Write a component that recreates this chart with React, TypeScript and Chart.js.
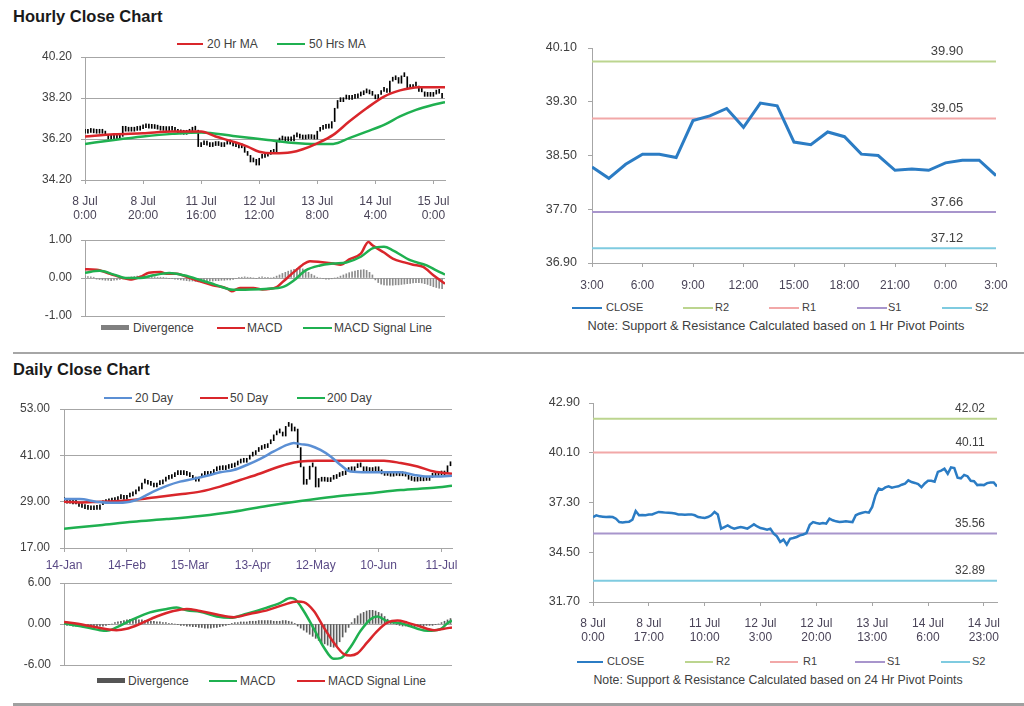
import React, { useEffect, useRef } from 'react';
import { Chart, registerables } from 'chart.js';

Chart.register(...registerables);

const FONT = '"Liberation Sans", Arial, Helvetica, sans-serif';
const TXT = '#404040';
const XLBL = '#4a4458';
const GRID = '#a6a6a6';
const RED = '#d9262b';
const GREEN = '#1fb050';
const BLUE20 = '#5b8fd4';
const CLOSE_BLUE = '#2b7cc4';
const DIV_H = '#8c8c8c';
const DIV_D = '#5c5c5c';
const R2C = '#bcd58f';
const R1C = '#f2a8a8';
const S1C = '#a895cc';
const S2C = '#7fcbe0';

// ---------------- Hourly data (8 Jul 0:00 .. 15 Jul 3:00, trading hours) ----------------
const hourlyClose = [
  36.48, 36.58, 36.52, 36.50, 36.48, 36.50, 36.48, 36.39, 36.20, 36.18,
  36.20, 36.22, 36.33, 36.82, 36.58, 36.60, 36.58, 36.62, 36.63, 36.70,
  36.77, 36.75, 36.73, 36.72, 36.71, 36.68, 36.63, 36.62, 36.61, 36.62,
  36.63, 36.58, 36.48, 36.45, 36.43, 36.48, 36.58, 36.77, 36.63, 35.83,
  35.92, 36.01, 35.90, 35.83, 35.88, 35.92, 35.88, 35.83, 35.95, 36.07,
  35.95, 35.86, 35.82, 35.77, 35.83, 35.55, 35.40, 35.08, 35.21, 34.93,
  35.26, 35.30, 35.36, 35.45, 35.50, 35.58, 36.05, 36.20, 36.15, 36.11,
  36.15, 36.11, 36.39, 36.30, 36.24, 36.20, 36.22, 36.24, 36.22, 36.20,
  36.58, 36.67, 36.72, 36.77, 36.73, 37.05, 37.70, 38.08, 38.02, 38.15,
  38.21, 38.13, 38.18, 38.21, 38.30, 38.36, 38.55, 38.45, 38.40, 38.33,
  38.16, 38.37, 38.52, 38.52, 38.47, 39.02, 39.09, 39.20, 38.92, 39.28,
  39.24, 38.70, 38.66, 38.85, 38.78, 38.52, 38.50, 38.28, 38.30, 38.28,
  38.39, 38.43, 38.43, 38.20,
];
const hourlyMA20 = [
  [0, 36.32], [10, 36.43], [20, 36.48], [30, 36.56], [40, 36.56], [45, 36.32], [51, 36.07],
  [56, 35.83], [60, 35.58], [65, 35.5], [71, 35.55], [75, 35.7], [80, 35.99], [85.5, 36.4],
  [91, 37.05], [97, 37.7], [103, 38.27], [108.5, 38.57], [112, 38.68], [115, 38.72], [124, 38.72],
];
const hourlyMA50 = [
  [0, 35.96], [10, 36.15], [20, 36.32], [30, 36.45], [40, 36.52], [51, 36.35], [63, 36.15],
  [71, 36.02], [80, 35.96], [85.5, 35.96], [91, 36.24], [97, 36.56], [103, 36.89],
  [108.5, 37.3], [114, 37.62], [120, 37.87], [124, 38.0],
];
const hourlyMACD = [
  [0, 0.23], [4, 0.22], [8.6, 0.11], [13, 0.0], [15.5, -0.04], [19, 0.03], [22, 0.14], [26, 0.16],
  [28, 0.11], [31.6, 0.11], [35, 0.03], [39.6, -0.09], [44, -0.19], [49, -0.28], [50.5, -0.35],
  [53.4, -0.26], [58, -0.26], [61, -0.3], [66, -0.24], [68, -0.11], [72, 0.16], [75, 0.35],
  [77.5, 0.44], [81, 0.42], [85.5, 0.38], [88, 0.35], [91, 0.49], [95, 0.64], [97.6, 0.95],
  [99, 0.86], [103, 0.67], [106, 0.51], [110, 0.41], [113, 0.35], [116.5, 0.29], [120, 0.07],
  [124, -0.15],
];
const hourlySignal = [
  [0, 0.14], [5, 0.19], [10, 0.09], [14, 0], [19, 0], [23.5, 0.07], [29, 0.13], [34, 0.07],
  [40, -0.06], [45, -0.18], [51, -0.31], [57, -0.3], [63, -0.28], [68, -0.24], [72, -0.06],
  [76, 0.2], [81, 0.33], [85.5, 0.38], [90, 0.41], [95, 0.56], [99, 0.78], [103, 0.82],
  [106, 0.73], [112, 0.47], [117.7, 0.33], [121, 0.2], [124, 0.09],
];
const hourlyDivergence = [
  0.05, 0.04, 0.03, 0.02, -0.03, -0.04, -0.05, -0.06, -0.06, -0.07,
  -0.06, -0.05, -0.04, -0.02, 0.0, 0.02, 0.03, 0.04, 0.05, 0.06,
  0.05, 0.04, 0.04, 0.03, 0.03, 0.02, 0.02, 0.01, 0.0, -0.01,
  -0.02, -0.03, -0.04, -0.05, -0.06, -0.07, -0.08, -0.08, -0.09, -0.1,
  -0.1, -0.09, -0.09, -0.08, -0.08, -0.07, -0.07, -0.06, -0.06, -0.05,
  -0.05, -0.04, -0.02, 0.01, 0.02, 0.03, 0.02, 0.01, 0.0, -0.01,
  0.02, 0.03, 0.02, 0.01, 0.0, 0.02, 0.05, 0.08, 0.12, 0.15,
  0.18, 0.21, 0.23, 0.25, 0.26, 0.24, 0.2, 0.15, 0.1, 0.06,
  0.02, 0.0, -0.02, -0.03, -0.03, -0.02, 0.0, 0.02, 0.05, 0.08,
  0.11, 0.14, 0.16, 0.18, 0.2, 0.21, 0.22, 0.2, 0.15, 0.08,
  -0.05, -0.12, -0.16, -0.18, -0.19, -0.19, -0.19, -0.18, -0.18, -0.17,
  -0.16, -0.15, -0.14, -0.13, -0.12, -0.12, -0.13, -0.15, -0.17, -0.2,
  -0.23, -0.25, -0.27, -0.28,
];
const hourlyYTicks = [34.2, 36.2, 38.2, 40.2];
const hourlyMacdYTicks = [-1, 0, 1];
const hourlyXTickIdx = [0, 20, 40, 60, 80, 100, 120];
const hourlyXTickLabels = [
  ['8 Jul', '0:00'], ['8 Jul', '20:00'], ['11 Jul', '16:00'], ['12 Jul', '12:00'],
  ['13 Jul', '8:00'], ['14 Jul', '4:00'], ['15 Jul', '0:00'],
];

// 1 Hr pivot chart (last 25 hours)
const pivotWindowStart = 99;
const pivotHourlyYTicks = [36.9, 37.7, 38.5, 39.3, 40.1];
const pivotHourlyXTickIdx = [0, 3, 6, 9, 12, 15, 18, 21, 24];
const pivotHourlyXTickLabels = ['3:00', '6:00', '9:00', '12:00', '15:00', '18:00', '21:00', '0:00', '3:00'];
const hourlyPivots = [39.9, 39.05, 37.66, 37.12]; // R2, R1, S1, S2

// ---------------- Daily data ----------------
const dailyClose = [
  29.0, 28.6, 28.8, 28.4, 28.7, 27.8, 27.5, 27.2, 27.0, 26.9,
  27.3, 27.0, 28.2, 28.5, 28.7, 28.9, 29.0, 29.3, 29.8, 30.0,
  29.6, 30.2, 30.5, 31.0, 31.8, 32.3, 33.8, 34.0, 33.5, 33.2,
  32.8, 33.4, 33.6, 34.3, 34.8, 35.0, 35.5, 36.0, 36.2, 36.0,
  36.3, 35.8, 35.5, 34.8, 34.3, 35.2, 35.8, 36.0, 35.8, 36.3,
  37.0, 37.2, 37.5, 37.3, 37.6, 37.8, 38.0, 38.5, 39.0, 39.3,
  39.2, 40.0, 40.8, 41.2, 42.0, 42.5, 42.8, 43.0, 44.0, 44.8,
  46.3, 47.2, 46.8, 46.0, 48.5, 49.2, 47.3, 47.8, 43.0, 38.0,
  33.5, 34.8, 38.2, 38.0, 32.8, 35.0, 34.3, 34.6, 34.2, 34.8,
  35.0, 35.5, 35.8, 36.0, 36.8, 37.5, 37.0, 37.8, 38.3, 38.0,
  37.0, 37.2, 36.8, 37.0, 37.2, 37.0, 36.2, 35.8, 36.0, 35.6,
  36.0, 35.8, 35.7, 35.9, 35.6, 34.8, 34.5, 34.3, 34.6, 34.4,
  34.8, 34.5, 35.3, 35.6, 35.8, 36.5, 35.9, 36.4, 38.3, 39.2,
];
const dailyMA20 = [
  [0, 29.67], [5.2, 29.67], [10.8, 29.0], [16.4, 28.7], [22, 29.0], [25.3, 29.8], [29.8, 31.6],
  [34.3, 33.1], [38.7, 34.2], [43.2, 34.9], [47.7, 35.7], [52.1, 36.6], [56.6, 37.2], [61, 38.5],
  [65.5, 40.1], [70, 42.0], [74.4, 43.7], [76.7, 44.2], [78.9, 43.9], [82.3, 43.5], [85.6, 42.4],
  [89, 40.7], [92.3, 38.5], [95.6, 36.8], [101.2, 36.6], [106.8, 36.6], [112.4, 36.6],
  [116.9, 35.9], [121.3, 35.5], [125.8, 35.5], [129.5, 35.7],
];
const dailyMA50 = [
  [0, 29.0], [5.2, 28.8], [12, 29.0], [18.6, 29.15], [25.3, 29.6], [32, 30.3], [38.7, 30.9],
  [45.4, 31.6], [52.1, 32.9], [58.8, 34.6], [65.5, 36.3], [70, 37.6], [74.4, 38.7], [78.9, 39.4],
  [84.5, 39.6], [90, 39.6], [95.6, 39.6], [101.2, 39.6], [106.8, 39.6], [112.4, 39.0],
  [118, 38.1], [123.5, 36.8], [129.5, 36.2],
];
const dailyMA200 = [
  [0, 22.0], [12, 22.9], [23.1, 23.8], [34.3, 24.5], [45.4, 25.3], [56.6, 26.4], [67.7, 27.9],
  [78.9, 29.2], [90, 30.3], [101.2, 31.1], [112.4, 32.0], [123.5, 32.6], [129.5, 33.1],
];
const dailyMACD = [
  [0, 0.1], [6.4, -0.4], [12, -0.9], [14.2, -1.0], [17.5, -0.5], [23.1, 0.7], [28.7, 1.7],
  [34.3, 2.2], [37.6, 2.4], [41, 2.0], [45.4, 1.8], [51, 1.1], [55.5, 0.9], [61, 1.5],
  [67.7, 2.4], [72.2, 3.1], [75.6, 3.8], [77.2, 3.6], [80, 1.9], [83.4, -0.7], [86.7, -3.4],
  [90, -5.1], [92.3, -5.0], [95.6, -3.4], [99, -1.0], [102.3, 0.7], [104.6, 1.1], [107.9, 0.4],
  [112.4, 0.1], [118, -0.7], [121.3, -1.0], [125.8, -0.7], [128, 0.1], [129.5, 0.5],
];
const dailySignal = [
  [0, 0.3], [6.4, -0.1], [12, -0.6], [17.5, -0.9], [20.9, -0.7], [25.3, 0], [30.9, 1.1],
  [36.5, 1.9], [41, 2.2], [45.4, 1.9], [51, 1.4], [56.6, 1.0], [62.2, 1.5], [67.7, 2.0],
  [73.3, 2.8], [77.8, 3.3], [80, 3.2], [83.4, 1.9], [86.7, -0.5], [90, -2.7], [93.4, -4.4],
  [95.6, -4.6], [97.9, -4.3], [101.2, -2.7], [104.6, -1.0], [107.9, 0.2], [111.3, 0.5],
  [114.6, 0.2], [119.1, -0.4], [123.5, -0.9], [126.8, -0.7], [129.5, -0.5],
];
const dailyDivergence = [
  -0.1, -0.2, -0.2, -0.3, -0.3, -0.4, -0.4, -0.5, -0.5, -0.5,
  -0.4, -0.4, -0.3, -0.3, -0.2, -0.1, 0.0, 0.2, 0.3, 0.4,
  0.5, 0.6, 0.7, 0.7, 0.7, 0.6, 0.6, 0.5, 0.5, 0.4,
  0.4, 0.3, 0.3, 0.2, 0.2, 0.1, 0.1, 0.0, -0.1, -0.2,
  -0.2, -0.3, -0.3, -0.4, -0.4, -0.5, -0.5, -0.6, -0.6, -0.6,
  -0.5, -0.5, -0.4, -0.3, -0.2, -0.1, 0.1, 0.2, 0.2, 0.3,
  0.3, 0.3, 0.4, 0.4, 0.4, 0.5, 0.5, 0.5, 0.5, 0.5,
  0.4, 0.4, 0.4, 0.5, 0.5, 0.4, 0.3, 0.1, -0.3, -0.6,
  -0.9, -1.2, -1.5, -1.8, -2.1, -2.4, -2.7, -2.9, -3.1, -3.3,
  -3.4, -3.2, -2.6, -1.9, -1.2, -0.5, 0.2, 0.8, 1.2, 1.5,
  1.7, 1.9, 2.0, 2.0, 1.9, 1.7, 1.5, 1.1, 0.7, 0.4,
  0.1, -0.1, -0.2, -0.3, -0.3, -0.4, -0.4, -0.4, -0.3, -0.3,
  -0.3, -0.2, -0.2, -0.2, -0.1, 0.0, 0.2, 0.4, 0.6, 0.8,
];
const dailyYTicks = [17, 29, 41, 53];
const dailyMacdYTicks = [-6, 0, 6];
const dailyXTickIdx = [0, 21, 42, 63, 84, 105, 126];
const dailyXTickLabels = ['14-Jan', '14-Feb', '15-Mar', '13-Apr', '12-May', '10-Jun', '11-Jul'];

// 24 Hr pivot chart (hourly closes 8 Jul 0:00 .. 15 Jul 3:00)
const pivotDailyYTicks = [31.7, 34.5, 37.3, 40.1, 42.9];
const pivotDailyXTickIdx = [0, 17, 34, 51, 68, 85, 102, 119];
const pivotDailyXTickLabels = [
  ['8 Jul', '0:00'], ['8 Jul', '17:00'], ['11 Jul', '10:00'], ['12 Jul', '3:00'],
  ['12 Jul', '20:00'], ['13 Jul', '13:00'], ['14 Jul', '6:00'], ['14 Jul', '23:00'],
];
const dailyPivots = [42.02, 40.11, 35.56, 32.89]; // R2, R1, S1, S2

const pivotColors = [R2C, R1C, S1C, S2C];

// ---------------- helpers ----------------
const pts = (arr: number[][]) => arr.map(([x, y]) => ({ x, y }));

function yScale(ticks: number[], width: number, grid: boolean, size: number, pad: number) {
  return {
    type: 'linear',
    min: ticks[0],
    max: ticks[ticks.length - 1],
    afterBuildTicks: (s: any) => {
      s.ticks = ticks.map((v) => ({ value: v }));
    },
    afterFit: (s: any) => {
      s.width = width;
      s.paddingTop = 0;
      s.paddingBottom = 0;
    },
    ticks: {
      callback: (v: any) => Number(v).toFixed(2),
      color: TXT,
      font: { family: FONT, size },
      padding: pad,
    },
    grid: { drawOnChartArea: grid, color: GRID, tickColor: GRID, tickLength: 4, lineWidth: 1 },
    border: { display: true, color: GRID, width: 1 },
  };
}

function xScale(
  min: number,
  max: number,
  idx: number[] | null,
  labels: any[] | null,
  height: number,
  size: number,
  pad: number,
  color: string,
) {
  if (!idx) {
    return { type: 'linear', min, max, offset: false, display: false };
  }
  return {
    type: 'linear',
    min,
    max,
    offset: false,
    afterBuildTicks: (s: any) => {
      s.ticks = idx.map((v) => ({ value: v }));
    },
    afterFit: (s: any) => {
      s.height = height;
      s.paddingLeft = 0;
      s.paddingRight = 0;
    },
    ticks: {
      autoSkip: false,
      maxRotation: 0,
      minRotation: 0,
      callback: (_v: any, i: number) => (labels as any[])[i],
      color,
      font: { family: FONT, size, lineHeight: 1.2 },
      padding: pad,
    },
    grid: { drawOnChartArea: false, color: GRID, tickColor: GRID, tickLength: 4, offset: false },
    border: { display: true, color: GRID, width: 1 },
  };
}

const lineDs = (data: any[], color: string, width: number, smooth: boolean) => ({
  type: 'line',
  data,
  borderColor: color,
  backgroundColor: color,
  borderWidth: width,
  pointRadius: 0,
  fill: false,
  tension: smooth ? 0.4 : 0,
  cubicInterpolationMode: smooth ? 'monotone' : 'default',
});

const barDs = (data: any[], color: string, thickness: number, minLen: number) => ({
  type: 'bar',
  data,
  backgroundColor: color,
  borderWidth: 0,
  barThickness: thickness,
  minBarLength: minLen,
  grouped: false,
});

const pivotLabelPlugin = {
  id: 'pivotLabels',
  afterDatasetsDraw(chart: any, _args: any, opts: any) {
    if (!opts || !opts.values) return;
    const { ctx, chartArea, scales } = chart;
    ctx.save();
    ctx.font = `${opts.size}px ${FONT}`;
    ctx.fillStyle = TXT;
    ctx.textAlign = 'center';
    ctx.textBaseline = 'middle';
    opts.values.forEach((v: number) => {
      const y = scales.y.getPixelForValue(v);
      ctx.fillText(v.toFixed(2), chartArea.right - opts.offset, y - 10);
    });
    ctx.restore();
  },
};

function baseOptions(padding: any, scales: any, pivot?: any) {
  return {
    responsive: false,
    maintainAspectRatio: false,
    animation: false,
    devicePixelRatio: 1,
    events: [],
    layout: { padding, autoPadding: false },
    plugins: {
      legend: { display: false },
      tooltip: { enabled: false },
      pivotLabels: pivot || {},
    },
    scales,
  };
}

function hourlyPriceConfig() {
  const candles = hourlyClose.map((c, i) => ({ x: i, y: [i ? hourlyClose[i - 1] : c, c] }));
  return {
    type: 'line',
    data: {
      datasets: [
        lineDs(pts(hourlyMA20), RED, 2.5, true),
        lineDs(pts(hourlyMA50), GREEN, 2.5, true),
        barDs(candles, '#000000', 1, 4),
      ],
    },
    options: baseOptions({ left: 0, top: 9, right: 25, bottom: 0 }, {
      x: xScale(0, 124, hourlyXTickIdx, hourlyXTickLabels, 48, 12, 10, XLBL),
      y: yScale(hourlyYTicks, 85, true, 12, 9),
    }),
  };
}

function hourlyMacdConfig() {
  return {
    type: 'line',
    data: {
      datasets: [
        lineDs(pts(hourlySignal), GREEN, 2.5, true),
        lineDs(pts(hourlyMACD), RED, 2.5, true),
        barDs(hourlyDivergence.map((v, i) => ({ x: i, y: v })), DIV_H, 1, 0),
      ],
    },
    options: baseOptions({ left: 0, top: 10, right: 25, bottom: 6 }, {
      x: xScale(0, 124, null, null, 0, 12, 0, XLBL),
      y: yScale(hourlyMacdYTicks, 85, true, 12, 9),
    }),
  };
}

function hourlyPivotConfig() {
  const win = hourlyClose.slice(pivotWindowStart);
  const last = win.length - 1;
  return {
    type: 'line',
    data: {
      datasets: [
        lineDs(win.map((v, j) => ({ x: j, y: v })), CLOSE_BLUE, 3, false),
        ...hourlyPivots.map((p, k) => lineDs([{ x: 0, y: p }, { x: last, y: p }], pivotColors[k], 2, false)),
      ],
    },
    options: baseOptions({ left: 0, top: 18, right: 28, bottom: 0 }, {
      x: xScale(0, last, pivotHourlyXTickIdx, pivotHourlyXTickLabels, 42, 12, 11, XLBL),
      y: yScale(pivotHourlyYTicks, 72, false, 12.5, 11),
    }, { values: hourlyPivots, offset: 49, size: 13 }),
    plugins: [pivotLabelPlugin],
  };
}

function dailyPriceConfig() {
  const candles = dailyClose.map((c, i) => ({ x: i, y: [i ? dailyClose[i - 1] : c, c] }));
  return {
    type: 'line',
    data: {
      datasets: [
        lineDs(pts(dailyMA20), BLUE20, 2.5, true),
        lineDs(pts(dailyMA50), RED, 2.5, true),
        lineDs(pts(dailyMA200), GREEN, 2.5, true),
        barDs(candles, '#000000', 1, 4),
      ],
    },
    options: baseOptions({ left: 0, top: 11, right: 18, bottom: 0 }, {
      x: xScale(0, 129.5, dailyXTickIdx, dailyXTickLabels, 32, 12, 6, '#5a4a86'),
      y: yScale(dailyYTicks, 64, true, 12, 10),
    }),
  };
}

function dailyMacdConfig() {
  return {
    type: 'line',
    data: {
      datasets: [
        lineDs(pts(dailySignal), RED, 2.5, true),
        lineDs(pts(dailyMACD), GREEN, 2.5, true),
        barDs(dailyDivergence.map((v, i) => ({ x: i, y: v })), DIV_D, 1, 0),
      ],
    },
    options: baseOptions({ left: 0, top: 11, right: 18, bottom: 7 }, {
      x: xScale(0, 129.5, null, null, 0, 12, 0, XLBL),
      y: yScale(dailyMacdYTicks, 64, true, 12, 9),
    }),
  };
}

function dailyPivotConfig() {
  const last = hourlyClose.length - 1;
  return {
    type: 'line',
    data: {
      datasets: [
        lineDs(hourlyClose.map((v, i) => ({ x: i, y: v })), CLOSE_BLUE, 2.5, false),
        ...dailyPivots.map((p, k) => lineDs([{ x: 0, y: p }, { x: last, y: p }], pivotColors[k], 2, false)),
      ],
    },
    options: baseOptions({ left: 0, top: 18, right: 27, bottom: 0 }, {
      x: xScale(0, last, pivotDailyXTickIdx, pivotDailyXTickLabels, 53, 12, 10, XLBL),
      y: yScale(pivotDailyYTicks, 73, false, 12.5, 9),
    }, { values: dailyPivots, offset: 27, size: 12 }),
    plugins: [pivotLabelPlugin],
  };
}

// ---------------- components ----------------
function ChartBox(props: { left: number; top: number; width: number; height: number; build: () => any }) {
  const ref = useRef<HTMLCanvasElement | null>(null);
  useEffect(() => {
    const chart = new Chart(ref.current as HTMLCanvasElement, props.build());
    return () => chart.destroy();
  }, []);
  return (
    <canvas
      ref={ref}
      width={props.width}
      height={props.height}
      style={{ position: 'absolute', left: props.left, top: props.top, width: props.width, height: props.height }}
    />
  );
}

type LegendItem = { x1: number; x2: number; color: string; h: number; label: string; tx: number };

function Legend(props: { cy: number; size: number; items: LegendItem[] }) {
  const { cy, size, items } = props;
  return (
    <>
      {items.map((it, k) => (
        <React.Fragment key={k}>
          <div
            style={{
              position: 'absolute',
              left: it.x1,
              top: cy - it.h / 2,
              width: it.x2 - it.x1,
              height: it.h,
              background: it.color,
            }}
          />
          <div
            style={{
              position: 'absolute',
              left: it.tx,
              top: cy - size * 0.5,
              fontSize: size,
              lineHeight: `${size}px`,
              fontFamily: FONT,
              color: TXT,
              whiteSpace: 'nowrap',
            }}
          >
            {it.label}
          </div>
        </React.Fragment>
      ))}
    </>
  );
}

function Text(props: { x: number; cy: number; size: number; bold?: boolean; center?: boolean; children: any }) {
  const { x, cy, size, bold, center } = props;
  return (
    <div
      style={{
        position: 'absolute',
        left: center ? x - 300 : x,
        width: center ? 600 : undefined,
        textAlign: center ? 'center' : 'left',
        top: cy - size * 0.5,
        fontSize: size,
        lineHeight: `${size}px`,
        fontFamily: FONT,
        fontWeight: bold ? 700 : 400,
        color: bold ? '#1a1a1a' : TXT,
        whiteSpace: 'nowrap',
      }}
    >
      {props.children}
    </div>
  );
}

export default function App() {
  return (
    <div
      style={{
        position: 'fixed',
        left: 0,
        top: 0,
        width: 1024,
        height: 706,
        background: '#ffffff',
        overflow: 'hidden',
      }}
    >
      <Text x={13} cy={16} size={16.5} bold>Hourly Close Chart</Text>
      <Text x={13} cy={369.5} size={16.5} bold>Daily Close Chart</Text>

      <div style={{ position: 'absolute', left: 13, top: 351.5, width: 1011, height: 2, background: '#a6a6a6' }} />
      <div style={{ position: 'absolute', left: 13, top: 703, width: 1011, height: 3, background: '#a0a0a0' }} />

      <Legend
        cy={44}
        size={12}
        items={[
          { x1: 177, x2: 203, color: RED, h: 2, label: '20 Hr MA', tx: 207 },
          { x1: 277, x2: 305, color: GREEN, h: 2, label: '50 Hrs MA', tx: 309 },
        ]}
      />
      <Legend
        cy={327.5}
        size={12}
        items={[
          { x1: 101, x2: 129, color: '#808080', h: 5, label: 'Divergence', tx: 133 },
          { x1: 217, x2: 245, color: RED, h: 2, label: 'MACD', tx: 247 },
          { x1: 303, x2: 332, color: GREEN, h: 2, label: 'MACD Signal Line', tx: 334 },
        ]}
      />
      <Legend
        cy={307.5}
        size={11}
        items={[
          { x1: 572, x2: 602, color: CLOSE_BLUE, h: 2, label: 'CLOSE', tx: 606 },
          { x1: 683, x2: 713, color: R2C, h: 2, label: 'R2', tx: 715 },
          { x1: 769, x2: 799, color: R1C, h: 2, label: 'R1', tx: 802 },
          { x1: 857, x2: 887, color: S1C, h: 2, label: 'S1', tx: 888 },
          { x1: 942, x2: 972, color: S2C, h: 2, label: 'S2', tx: 975 },
        ]}
      />
      <Text x={776} cy={326} size={12.8} center>Note: Support &amp; Resistance Calculated based on 1 Hr Pivot Points</Text>

      <Legend
        cy={397.5}
        size={12}
        items={[
          { x1: 104, x2: 132, color: BLUE20, h: 2, label: '20 Day', tx: 135 },
          { x1: 200, x2: 228, color: RED, h: 2, label: '50 Day', tx: 230 },
          { x1: 297, x2: 325, color: GREEN, h: 2, label: '200 Day', tx: 327 },
        ]}
      />
      <Legend
        cy={680.5}
        size={12}
        items={[
          { x1: 97, x2: 125, color: '#555555', h: 5, label: 'Divergence', tx: 128 },
          { x1: 209, x2: 237, color: GREEN, h: 2, label: 'MACD', tx: 240 },
          { x1: 297, x2: 325, color: RED, h: 2, label: 'MACD Signal Line', tx: 328 },
        ]}
      />
      <Legend
        cy={661.5}
        size={11}
        items={[
          { x1: 577, x2: 603, color: CLOSE_BLUE, h: 2, label: 'CLOSE', tx: 607 },
          { x1: 685, x2: 713, color: R2C, h: 2, label: 'R2', tx: 716 },
          { x1: 770, x2: 798, color: R1C, h: 2, label: 'R1', tx: 803 },
          { x1: 855, x2: 885, color: S1C, h: 2, label: 'S1', tx: 887 },
          { x1: 941, x2: 970, color: S2C, h: 2, label: 'S2', tx: 972 },
        ]}
      />
      <Text x={778} cy={680} size={12.3} center>Note: Support &amp; Resistance Calculated based on 24 Hr Pivot Points</Text>

      <ChartBox left={0} top={48} width={470} height={180} build={hourlyPriceConfig} />
      <ChartBox left={0} top={230} width={470} height={92} build={hourlyMacdConfig} />
      <ChartBox left={520} top={30} width={504} height={275} build={hourlyPivotConfig} />
      <ChartBox left={0} top={398} width={470} height={182} build={dailyPriceConfig} />
      <ChartBox left={0} top={572} width={470} height={100} build={dailyMacdConfig} />
      <ChartBox left={520} top={385} width={504} height={270} build={dailyPivotConfig} />
    </div>
  );
}
